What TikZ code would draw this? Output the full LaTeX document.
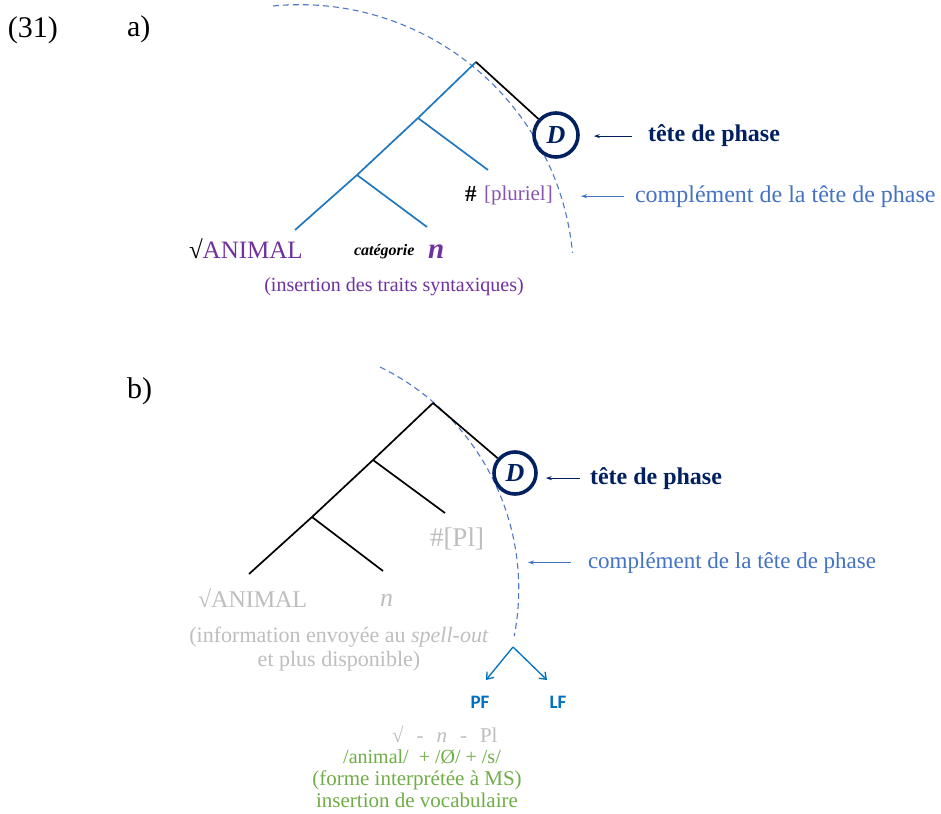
\documentclass[tikz,border=0pt]{standalone}
\usepackage{fontspec}
\setmainfont{Liberation Serif}
\newfontfamily\sansb{Carlito}
\usetikzlibrary{arrows.meta}
\definecolor{treeblue}{RGB}{31,120,192}
\definecolor{purp}{RGB}{112,48,160}
\definecolor{purpl}{RGB}{135,85,175}
\definecolor{navy}{RGB}{0,32,96}
\definecolor{lblue}{RGB}{68,114,196}
\definecolor{arcblue}{RGB}{80,120,200}
\definecolor{lgray}{RGB}{190,190,190}
\definecolor{wgreen}{RGB}{112,173,71}
\definecolor{pfblue}{RGB}{0,112,192}
\tikzset{
  txt/.style={inner sep=0pt, outer sep=0pt},
  bluebranch/.style={draw=treeblue, line width=1.7pt},
  blackbranch/.style={draw=black, line width=1.7pt},
  headcirc/.style={circle, draw=navy, line width=3.6pt, minimum size=44pt, inner sep=0pt, text=navy, font=\fontsize{26}{26}\selectfont\itshape\bfseries},
  phasearc/.style={draw=arcblue, line width=1.1pt, dash pattern=on 6pt off 4pt},
  navyarrow/.style={draw=navy, line width=0.9pt, -{Stealth[length=6pt,width=4pt]}},
  bluearrow/.style={draw=lblue, line width=0.9pt, -{Stealth[length=6pt,width=4pt]}},
  pfarrow/.style={draw=pfblue, line width=1.3pt, -{Straight Barb[length=6pt,width=9pt,line width=1.3pt]}},
}
\begin{document}
\begin{tikzpicture}[x=1pt,y=-1pt]
\useasboundingbox[fill=white] (0,0) rectangle (941,813);

% ---------- part a ----------
\node[txt, anchor=base west, font=\fontsize{30}{30}\selectfont] (lab31) at (8,38) {(31)};
\node[txt, anchor=base west, font=\fontsize{30}{30}\selectfont] (laba) at (127,37) {a)};

\draw[phasearc] (273,6) arc[start angle=95.6, end angle=5.4, radius=274pt];

\coordinate (aTop) at (476,62);
\coordinate (aMid) at (418,118);
\coordinate (aLow) at (357,175);
\coordinate (aRootEnd) at (295,230);
\coordinate (aNEnd) at (427,227);
\coordinate (aPlEnd) at (488,170);
\node[headcirc] (aD) at (556,135) {D};

\draw[bluebranch] (aTop) -- (aMid) -- (aLow) -- (aRootEnd);
\draw[bluebranch] (aMid) -- (aPlEnd);
\draw[bluebranch] (aLow) -- (aNEnd);
\draw[blackbranch] (aTop) -- (aD);

\node[txt, anchor=base west, font=\fontsize{25}{25}\selectfont] (aAnimal) at (189,258) {√\textcolor{purp}{ANIMAL}};
\node[txt, anchor=base west, font=\fontsize{16}{16}\selectfont\bfseries\itshape] (aCat) at (354,255) {catégorie};
\node[txt, anchor=base west, text=purp, font=\fontsize{29}{29}\selectfont\bfseries\itshape] (aN) at (428,258) {n};
\node[txt, anchor=base, text=purp, font=\fontsize{20}{20}\selectfont] (aIns) at (394,291) {(insertion des traits syntaxiques)};
\node[txt, anchor=base west, font=\fontsize{23}{23}\selectfont\bfseries] (aHash) at (465,201) {\#};
\node[txt, anchor=base west, text=purpl, font=\fontsize{21}{21}\selectfont] (aPl) at (484,200) {[pluriel]};

\node[txt, anchor=base west, text=navy, font=\fontsize{24}{24}\selectfont\bfseries] (aTete) at (648,142) {tête de phase};
\node[txt, anchor=base west, text=lblue, font=\fontsize{24}{24}\selectfont] (aCompl) at (635,202) {complément de la tête de phase};
\coordinate (aArcPt) at (581,196);
\draw[navyarrow, shorten <=16pt, shorten >=14pt] (aTete.west) -- (aTete.west -| aD.east);
\draw[bluearrow, shorten <=11pt] (aCompl.west) -- (aCompl.west -| aArcPt);

% ---------- part b ----------
\node[txt, anchor=base west, font=\fontsize{30}{30}\selectfont] (labb) at (127,398) {b)};

\draw[phasearc] (380,367) arc[start angle=64, end angle=-11, radius=247pt];

\coordinate (bTop) at (433,403);
\coordinate (bMid) at (373,460);
\coordinate (bLow) at (312,517);
\coordinate (bRootEnd) at (249,574);
\coordinate (bNEnd) at (383,571);
\coordinate (bPlEnd) at (445,513);
\node[headcirc, minimum size=42pt] (bD) at (515,473) {D};

\draw[blackbranch] (bTop) -- (bMid) -- (bLow) -- (bRootEnd);
\draw[blackbranch] (bMid) -- (bPlEnd);
\draw[blackbranch] (bLow) -- (bNEnd);
\draw[blackbranch] (bTop) -- (bD);

\node[txt, anchor=base west, text=lgray, font=\fontsize{24}{24}\selectfont] (bAnimal) at (198,607) {√ANIMAL};
\node[txt, anchor=base west, text=lgray, font=\fontsize{26}{26}\selectfont\itshape] (bN) at (380,606) {n};
\node[txt, anchor=base west, text=lgray, font=\fontsize{27}{27}\selectfont] (bPl) at (430,546) {\#[Pl]};
\node[txt, anchor=base, text=lgray, align=center, font=\fontsize{22}{24}\selectfont] (bInfo) at (339,666) {(information envoyée au \textit{spell-out}\\et plus disponible)};

\node[txt, anchor=base west, text=navy, font=\fontsize{24}{24}\selectfont\bfseries] (bTete) at (590,484) {tête de phase};
\node[txt, anchor=base west, text=lblue, font=\fontsize{23}{23}\selectfont] (bCompl) at (588,568) {complément de la tête de phase};
\coordinate (bArcPt) at (528,561);
\draw[navyarrow, shorten <=10pt, shorten >=8pt] (bTete.west) -- (bTete.west -| bD.east);
\draw[bluearrow, shorten <=17pt] (bCompl.west) -- (bCompl.west -| bArcPt);

\coordinate (split) at (513,647);
\coordinate (pfTip) at (486,680);
\coordinate (lfTip) at (547,680);
\draw[pfarrow] (split) -- (pfTip);
\draw[pfarrow] (split) -- (lfTip);
\node[txt, anchor=base, text=pfblue, font=\fontsize{19}{19}\selectfont\sansb\bfseries] (pf) at (480,708) {PF};
\node[txt, anchor=base, text=pfblue, font=\fontsize{19}{19}\selectfont\sansb\bfseries] (lf) at (558,708) {LF};

\node[txt, anchor=base west, text=lgray, font=\fontsize{21}{21}\selectfont] (bSeq) at (392,742) {√\hspace{13pt}-\hspace{13pt}\textit{n}\hspace{13pt}-\hspace{13pt}Pl};
\node[txt, anchor=base, text=wgreen, font=\fontsize{20}{20}\selectfont] (bForms) at (422,763) {/animal/\ \ + /Ø/ + /s/};
\node[txt, anchor=base, text=wgreen, font=\fontsize{21}{21}\selectfont] (bMS) at (417,785) {(forme interprétée à MS)};
\node[txt, anchor=base, text=wgreen, font=\fontsize{21}{21}\selectfont] (bVoc) at (417,807) {insertion de vocabulaire};
\end{tikzpicture}
\end{document}
